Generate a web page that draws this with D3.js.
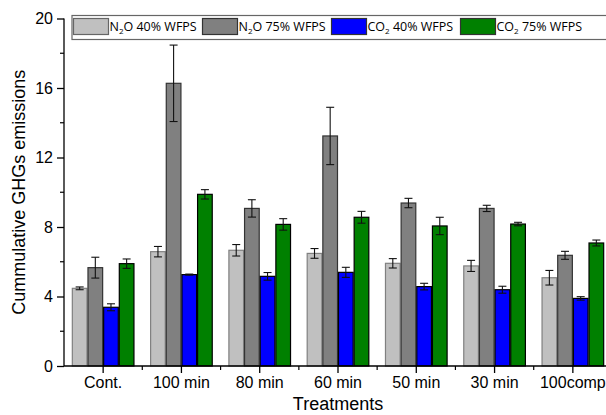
<!DOCTYPE html>
<html><head><meta charset="utf-8">
<script src="https://cdn.jsdelivr.net/npm/d3@7"></script>
<style>body{margin:0;background:#fff;overflow:hidden}</style>
</head><body>
<svg id="c" width="606" height="415"></svg>
<script>
const categories = ["Cont.","100 min","80 min","60 min","50 min","30 min","100comp"];
const seriesNames = ["N2O 40% WFPS","N2O 75% WFPS","CO2 40% WFPS","CO2 75% WFPS"];
const n2o40 = [4.47, 6.58, 6.66, 6.48, 5.91, 5.76, 5.08];
const n2o40Err = [0.08, 0.30, 0.33, 0.28, 0.27, 0.32, 0.42];
const n2o75 = [5.66, 16.27, 9.07, 13.24, 9.38, 9.07, 6.37];
const n2o75Err = [0.60, 2.20, 0.50, 1.65, 0.27, 0.18, 0.23];
const co240 = [3.38, 5.26, 5.16, 5.39, 4.57, 4.39, 3.89];
const co240Err = [0.20, 0.03, 0.22, 0.29, 0.19, 0.20, 0.10];
const co275 = [5.89, 9.88, 8.15, 8.56, 8.06, 8.17, 7.08];
const co275Err = [0.27, 0.27, 0.33, 0.34, 0.50, 0.10, 0.17];
const yTicks = [0,4,8,12,16,20];
const yMinor = [2,6,10,14,18];

const values = [n2o40, n2o75, co240, co275];
const errs = [n2o40Err, n2o75Err, co240Err, co275Err];
const fills = ["#c0c0c0","#808080","#0000ff","#008000"];
const strokes = ["#808080","#333333","#000000","#000000"];

const svg = d3.select("#c");
const font = "'Liberation Sans', Arial, sans-serif";
const x0 = 64, x1 = 612, yTop = 18.5, yBot = 366;

const x = d3.scaleBand().domain(categories).range([x0, x1]).paddingInner(0.2).paddingOuter(0.1);
const xs = d3.scaleBand().domain(d3.range(seriesNames.length)).range([0, x.bandwidth()]);
const y = d3.scaleLinear().domain([0,20]).range([yBot, yTop]);

// bars
const rows = [];
categories.forEach((c,ci)=>{
  values.forEach((arr,si)=>rows.push({c, si, v:arr[ci], e:errs[si][ci]}));
});
const g = svg.append("g");
g.selectAll("rect.bar").data(rows).enter().append("rect")
  .attr("x", d=>x(d.c)+xs(d.si)+0.5)
  .attr("y", d=>y(d.v))
  .attr("width", xs.bandwidth()-1)
  .attr("height", d=>y(0)-y(d.v))
  .attr("fill", d=>fills[d.si])
  .attr("stroke", d=>strokes[d.si])
  .attr("stroke-width", 1.2);

// error bars
const eb = g.selectAll("g.eb").data(rows).enter().append("g")
  .attr("stroke","#111").attr("stroke-width",1.1);
const cx = d=>x(d.c)+xs(d.si)+xs.bandwidth()/2;
eb.append("line").attr("x1",cx).attr("x2",cx).attr("y1",d=>y(d.v+d.e)).attr("y2",d=>y(d.v-d.e));
eb.append("line").attr("x1",d=>cx(d)-4).attr("x2",d=>cx(d)+4).attr("y1",d=>y(d.v+d.e)).attr("y2",d=>y(d.v+d.e));
eb.append("line").attr("x1",d=>cx(d)-4).attr("x2",d=>cx(d)+4).attr("y1",d=>y(d.v-d.e)).attr("y2",d=>y(d.v-d.e));

// y axis
const yAxis = svg.append("g").attr("transform",`translate(${x0},0)`)
  .call(d3.axisLeft(y).tickValues(yTicks).tickSize(7).tickPadding(4).tickFormat(d3.format("d")));
yAxis.selectAll("text").attr("font-family",font).attr("font-size",16).attr("fill","#000");
yAxis.selectAll("line,path").attr("stroke","#000").attr("stroke-width",1.3);
yAxis.select("path").attr("d",`M0,${yBot}V${yTop}`);
svg.append("g").selectAll("line").data(yMinor).enter().append("line")
  .attr("x1",x0-4).attr("x2",x0).attr("y1",d=>y(d)).attr("y2",d=>y(d)).attr("stroke","#000").attr("stroke-width",1.2);

// x axis
const xAxis = svg.append("g").attr("transform",`translate(0,${yBot})`)
  .call(d3.axisBottom(x).tickSize(7).tickPadding(4));
xAxis.selectAll("text").attr("font-family",font).attr("font-size",16).attr("fill","#000");
xAxis.selectAll("line,path").attr("stroke","#000").attr("stroke-width",1.3);
xAxis.select("path").attr("d",`M${x0},0H${x1}`);
svg.append("g").selectAll("line").data(categories.slice(1)).enter().append("line")
  .attr("x1",d=>x(d)-x.step()*0.1).attr("x2",d=>x(d)-x.step()*0.1)
  .attr("y1",yBot).attr("y2",yBot+4).attr("stroke","#000").attr("stroke-width",1.2);

// axis titles
svg.append("text").attr("transform",`translate(25,${(yTop+yBot)/2}) rotate(-90)`)
  .attr("text-anchor","middle").attr("font-family",font).attr("font-size",18).text("Cummulative GHGs emissions");
svg.append("text").attr("x",338).attr("y",410).attr("text-anchor","middle")
  .attr("font-family",font).attr("font-size",18).text("Treatments");

// legend
const lg = svg.append("g");
lg.append("rect").attr("x",72).attr("y",15.5).attr("width",560).attr("height",24)
  .attr("fill","#fff").attr("stroke","#666").attr("stroke-width",1.2);
const items = lg.selectAll("g.it").data(seriesNames).enter().append("g")
  .attr("transform",(d,i)=>`translate(${73.5+i*129},18.5)`);
items.append("rect").attr("width",35).attr("height",16)
  .attr("fill",(d,i)=>fills[i]).attr("stroke",(d,i)=>i===0?"#666":"#333").attr("stroke-width",1.2);
const lt = items.append("text").attr("x",36).attr("y",12.5)
  .attr("font-family","'Open Sans', sans-serif").attr("font-size",12.5).attr("fill","#000");
lt.each(function(d){
  const t = d3.select(this);
  const m = d.match(/^([A-Z]+)(2)(.*)$/);
  t.append("tspan").text(m[1]);
  t.append("tspan").attr("font-size",8).attr("dy",3).text(m[2]);
  t.append("tspan").attr("dy",-3).text(m[3]);
});
</script>
</body></html>
